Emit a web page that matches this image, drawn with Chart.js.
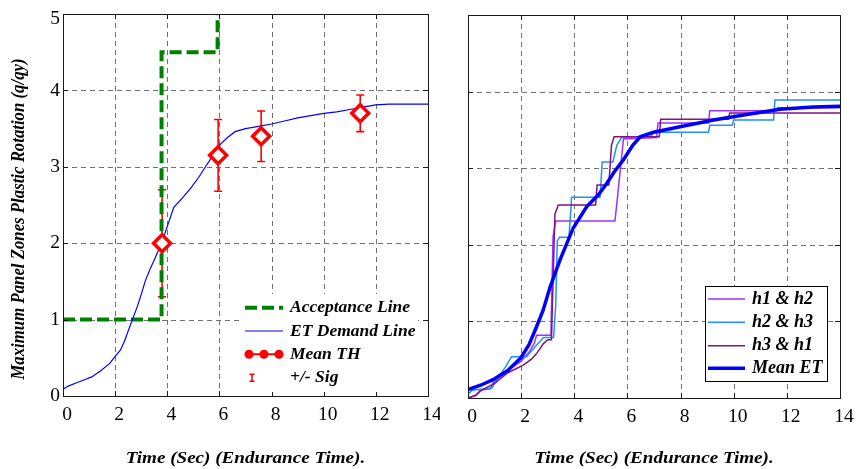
<!DOCTYPE html>
<html><head><meta charset="utf-8">
<script src="https://cdn.jsdelivr.net/npm/chart.js@4.4.0/dist/chart.umd.min.js"></script>
<style>
html,body{margin:0;padding:0;background:#fff;}
#wrap{position:relative;width:856px;height:469px;overflow:hidden;}
#c1{position:absolute;left:0;top:0;}
#c2{position:absolute;left:440px;top:0;}
</style></head><body>
<div id="wrap"><canvas id="c1" width="440" height="469"></canvas><canvas id="c2" width="416" height="469"></canvas></div>
<script>
// ---------- data ----------
const xTicks = [0, 2, 4, 6, 8, 10, 12, 14];
const yTicks = [0, 1, 2, 3, 4, 5];
const xTitle = 'Time (Sec) (Endurance Time).';
const yTitle = 'Maximum Panel Zones Plastic Rotation (q/qy)';

// left panel
const accX = [0, 3.78, 3.78, 5.93, 5.93];
const accY = [1, 1, 4.5, 4.5, 5];
const etX = [0,0.2,0.5,0.8,1.1,1.45,1.8,2.0,2.2,2.35,2.5,2.66,2.85,3.0,3.17,3.35,3.5,3.8,4.0,4.25,4.6,4.9,5.2,5.5,5.8,6.05,6.3,6.6,7.0,7.5,8.0,8.5,9.0,9.5,10.0,10.5,11.0,11.5,12.0,12.5,14];
const etY = [0.09,0.13,0.17,0.21,0.25,0.33,0.43,0.52,0.6,0.71,0.85,1.0,1.17,1.33,1.52,1.67,1.78,2.02,2.22,2.47,2.6,2.72,2.86,3.02,3.17,3.3,3.38,3.46,3.5,3.53,3.56,3.6,3.64,3.67,3.7,3.72,3.75,3.78,3.81,3.82,3.82];
const thX = [3.8, 5.95, 7.6, 11.4];
const thY = [2.0, 3.15, 3.4, 3.7];
const thSig = [0.7, 0.47, 0.33, 0.24];
const leftLegend = ['Acceptance Line', 'ET Demand Line', 'Mean TH', '+/- Sig'];

// right panel
const h12X = [0,0.3,0.45,0.85,1.0,1.5,2.0,2.3,2.5,2.58,3.12,3.2,3.3,5.53,5.62,5.85,7.1,7.15,9.05,9.1,11.6,11.65,14];
const h12Y = [0,0.03,0.1,0.12,0.24,0.36,0.48,0.6,0.72,0.82,0.82,2.1,2.31,2.31,2.6,3.38,3.4,3.59,3.59,3.75,3.75,3.79,3.79];
const h23X = [0,0.15,0.9,1.1,1.4,1.64,2.2,2.5,2.84,3.22,3.3,3.36,3.45,3.8,3.9,4.97,5.05,5.45,5.6,5.78,6.9,7.0,9.05,9.1,9.95,10.0,11.5,11.55,14];
const h23Y = [0.05,0.1,0.13,0.25,0.4,0.54,0.54,0.66,0.79,0.79,1.2,2.05,2.1,2.1,2.62,2.62,3.08,3.08,3.3,3.4,3.42,3.47,3.47,3.56,3.56,3.63,3.63,3.89,3.89];
const h31X = [0,0.3,0.5,1.0,1.5,2.08,2.4,2.58,2.84,3.0,3.14,3.2,3.27,3.4,4.8,4.86,5.3,5.4,5.5,7.2,7.25,9.8,9.85,14];
const h31Y = [0,0.04,0.1,0.19,0.33,0.43,0.51,0.58,0.71,0.76,0.76,1.5,2.4,2.52,2.52,2.78,2.78,3.3,3.41,3.41,3.64,3.64,3.72,3.72];
const meanX = [0,0.5,1.0,1.5,2.0,2.3,2.58,2.83,3.09,3.46,3.96,4.47,4.9,5.22,5.5,5.85,6.2,6.48,6.98,7.98,9.24,10.49,11.74,12.99,14];
const meanY = [0.11,0.17,0.25,0.36,0.53,0.7,0.93,1.15,1.45,1.8,2.22,2.5,2.65,2.8,2.95,3.11,3.3,3.41,3.47,3.54,3.63,3.7,3.77,3.8,3.81];
const rightLegend = ['h1 & h2', 'h2 & h3', 'h3 & h1', 'Mean ET'];

// ---------- helpers ----------
const SERIF = '"Liberation Serif", "Times New Roman", serif';
const pts = (xs, ys) => xs.map((x, i) => ({x, y: ys[i]}));
const GREEN = 'rgb(0,128,0)', BLUE = 'rgb(0,0,255)', RED = 'rgb(255,0,0)';
const C12 = 'rgb(153,51,255)', C23 = 'rgb(30,144,255)', C31 = 'rgb(128,20,128)';

function scalesCfg(yWidth, xHeight) {
  return {
    x: {type:'linear', min:0, max:14, ticks:{display:false},
        grid:{display:false, drawTicks:false}, border:{display:false},
        afterFit: s => { s.height = xHeight; }},
    y: {type:'linear', min:0, max:5, ticks:{display:false},
        grid:{display:false, drawTicks:false}, border:{display:false},
        afterFit: s => { s.width = yWidth; }}
  };
}

function drawGrid(chart) {
  const {ctx, chartArea:a, scales:{x, y}} = chart;
  ctx.save();
  ctx.strokeStyle = '#707070'; ctx.lineWidth = 1; ctx.setLineDash([5, 4]);
  xTicks.forEach(v => { if (v > 0 && v < 14) { const px = Math.round(x.getPixelForValue(v)) + 0.5;
    ctx.beginPath(); ctx.moveTo(px, a.top); ctx.lineTo(px, a.bottom); ctx.stroke(); }});
  yTicks.forEach(v => { if (v > 0 && v < 5) { const py = Math.round(y.getPixelForValue(v)) + 0.5;
    ctx.beginPath(); ctx.moveTo(a.left, py); ctx.lineTo(a.right, py); ctx.stroke(); }});
  ctx.restore();
}
function drawFrame(chart, showY) {
  const {ctx, chartArea:a, scales:{x, y}} = chart;
  ctx.save();
  ctx.strokeStyle = '#1a1a1a'; ctx.lineWidth = 1; ctx.setLineDash([]);
  ctx.strokeRect(Math.round(a.left)+0.5, Math.round(a.top)+0.5, Math.round(a.right-a.left), Math.round(a.bottom-a.top));
  const t = 5;
  xTicks.forEach(v => { const px = Math.round(x.getPixelForValue(v)) + 0.5;
    ctx.beginPath(); ctx.moveTo(px, a.bottom); ctx.lineTo(px, a.bottom - t);
    ctx.moveTo(px, a.top); ctx.lineTo(px, a.top + t); ctx.stroke(); });
  yTicks.forEach(v => { const py = Math.round(y.getPixelForValue(v)) + 0.5;
    ctx.beginPath(); ctx.moveTo(a.left, py); ctx.lineTo(a.left + t, py);
    ctx.moveTo(a.right, py); ctx.lineTo(a.right - t, py); ctx.stroke(); });
  // tick labels
  ctx.fillStyle = '#000'; ctx.font = '19.5px ' + SERIF; ctx.textBaseline = 'middle';
  ctx.textAlign = 'center';
  xTicks.forEach(v => ctx.fillText(String(v), x.getPixelForValue(v) + 4, a.bottom + 19));
  if (showY) {
    ctx.textAlign = 'right';
    yTicks.forEach(v => ctx.fillText(String(v), a.left - 3, Math.max(y.getPixelForValue(v), a.top + 5)));
  }
  // x title
  ctx.save();
  ctx.translate((a.left + a.right) / 2, 458);
  ctx.scale(1.08, 1);
  ctx.font = 'bold italic 17.7px ' + SERIF; ctx.textAlign = 'center';
  ctx.fillText(xTitle, 0, 0);
  ctx.restore();
  ctx.restore();
}

// ---------- left chart ----------
const leftPlugin = {
  id: 'leftDecor',
  beforeDatasetsDraw(chart) {
    drawGrid(chart);
    const {ctx, scales:{x, y}} = chart;
    ctx.save();
    ctx.strokeStyle = RED; ctx.lineWidth = 1.6;
    thX.forEach((v, i) => {
      const px = x.getPixelForValue(v), yt = y.getPixelForValue(thY[i] + thSig[i]), yb = y.getPixelForValue(thY[i] - thSig[i]);
      ctx.beginPath(); ctx.moveTo(px, yt); ctx.lineTo(px, yb);
      ctx.moveTo(px - 4, yt); ctx.lineTo(px + 4, yt);
      ctx.moveTo(px - 4, yb); ctx.lineTo(px + 4, yb); ctx.stroke();
    });
    ctx.restore();
  },
  afterDatasetsDraw(chart) {
    drawFrame(chart, true);
    const {ctx} = chart;
    ctx.save();
    ctx.fillStyle = '#fff'; ctx.fillRect(240, 294, 178, 98);
    const rows = [307.7, 331, 354.3, 377.7];
    const x0 = 245, x1 = 283;
    ctx.strokeStyle = GREEN; ctx.lineWidth = 4; ctx.setLineDash([12, 5]);
    ctx.beginPath(); ctx.moveTo(x0, rows[0]); ctx.lineTo(x1, rows[0]); ctx.stroke();
    ctx.setLineDash([]);
    ctx.strokeStyle = BLUE; ctx.lineWidth = 1.2;
    ctx.beginPath(); ctx.moveTo(x0, rows[1]); ctx.lineTo(x1, rows[1]); ctx.stroke();
    ctx.strokeStyle = RED; ctx.fillStyle = RED; ctx.lineWidth = 2;
    ctx.beginPath(); ctx.moveTo(x0, rows[2]); ctx.lineTo(x1, rows[2]); ctx.stroke();
    [249, 264, 279].forEach(cx => { ctx.beginPath(); ctx.arc(cx, rows[2], 4.5, 0, Math.PI*2); ctx.fill(); });
    ctx.lineWidth = 1.5;
    ctx.beginPath(); ctx.moveTo(252, rows[3]-3.5); ctx.lineTo(252, rows[3]+3.5);
    ctx.moveTo(249.5, rows[3]-3.5); ctx.lineTo(254.5, rows[3]-3.5);
    ctx.moveTo(249.5, rows[3]+3.5); ctx.lineTo(254.5, rows[3]+3.5); ctx.stroke();
    ctx.fillStyle = '#000'; ctx.font = 'bold italic 17.5px ' + SERIF; ctx.textBaseline = 'middle'; ctx.textAlign = 'left';
    leftLegend.forEach((t, i) => ctx.fillText(t, 290, rows[i]));
    // y title
    ctx.save();
    ctx.translate(19, 219); ctx.rotate(-Math.PI / 2); ctx.scale(1, 1.12);
    ctx.textAlign = 'center'; ctx.font = 'bold italic 16.8px ' + SERIF;
    ctx.fillText(yTitle, 0, 0);
    ctx.restore();
    ctx.restore();
  }
};

new Chart(document.getElementById('c1'), {
  type: 'line',
  data: { datasets: [
    {label:'Mean TH', data: pts(thX, thY), showLine:false, pointStyle:'rectRot', pointRadius:8.5,
     pointBorderWidth:3.5, pointBorderColor:RED, pointBackgroundColor:'#fff', borderColor:RED},
    {label:'ET Demand Line', data: pts(etX, etY), borderColor:BLUE, borderWidth:1.2, pointRadius:0, tension:0},
    {label:'Acceptance Line', data: pts(accX, accY), borderColor:GREEN, borderWidth:4, borderDash:[12,5], pointRadius:0, tension:0}
  ]},
  options: {
    responsive:false, animation:false,
    layout:{padding:{top:14, right:12, left:0, bottom:0}},
    plugins:{legend:{display:false}, tooltip:{enabled:false}},
    scales: scalesCfg(63, 469 - 396)
  },
  plugins:[leftPlugin]
});

// ---------- right chart ----------
const rightPlugin = {
  id: 'rightDecor',
  beforeDatasetsDraw(chart) { drawGrid(chart); },
  afterDatasetsDraw(chart) {
    drawFrame(chart, false);
    const {ctx} = chart;
    ctx.save();
    ctx.fillStyle = '#fff'; ctx.fillRect(266, 286, 122, 96);
    ctx.strokeStyle = '#000'; ctx.lineWidth = 1; ctx.strokeRect(265.5, 286.5, 122, 95);
    const rows = [299, 322.3, 345.7, 368.3];
    const cols = [C12, C23, C31, BLUE];
    const widths = [1.5, 1.5, 1.5, 3.5];
    rows.forEach((ry, i) => {
      ctx.strokeStyle = cols[i]; ctx.lineWidth = widths[i];
      ctx.beginPath(); ctx.moveTo(268, ry); ctx.lineTo(305, ry); ctx.stroke();
    });
    ctx.fillStyle = '#000'; ctx.font = 'bold italic 18px ' + SERIF; ctx.textBaseline = 'middle'; ctx.textAlign = 'left';
    rightLegend.forEach((t, i) => ctx.fillText(t, 312, rows[i]));
    ctx.restore();
  }
};

new Chart(document.getElementById('c2'), {
  type: 'line',
  data: { datasets: [
    {label:'Mean ET', data: pts(meanX, meanY), borderColor:BLUE, borderWidth:3.5, pointRadius:0, tension:0},
    {label:'h3 & h1', data: pts(h31X, h31Y), borderColor:C31, borderWidth:1.5, pointRadius:0, tension:0},
    {label:'h2 & h3', data: pts(h23X, h23Y), borderColor:C23, borderWidth:1.5, pointRadius:0, tension:0},
    {label:'h1 & h2', data: pts(h12X, h12Y), borderColor:C12, borderWidth:1.5, pointRadius:0, tension:0}
  ]},
  options: {
    responsive:false, animation:false,
    layout:{padding:{top:15, right:16, left:0, bottom:0}},
    plugins:{legend:{display:false}, tooltip:{enabled:false}},
    scales: scalesCfg(28, 469 - 398)
  },
  plugins:[rightPlugin]
});
</script>
</body></html>
